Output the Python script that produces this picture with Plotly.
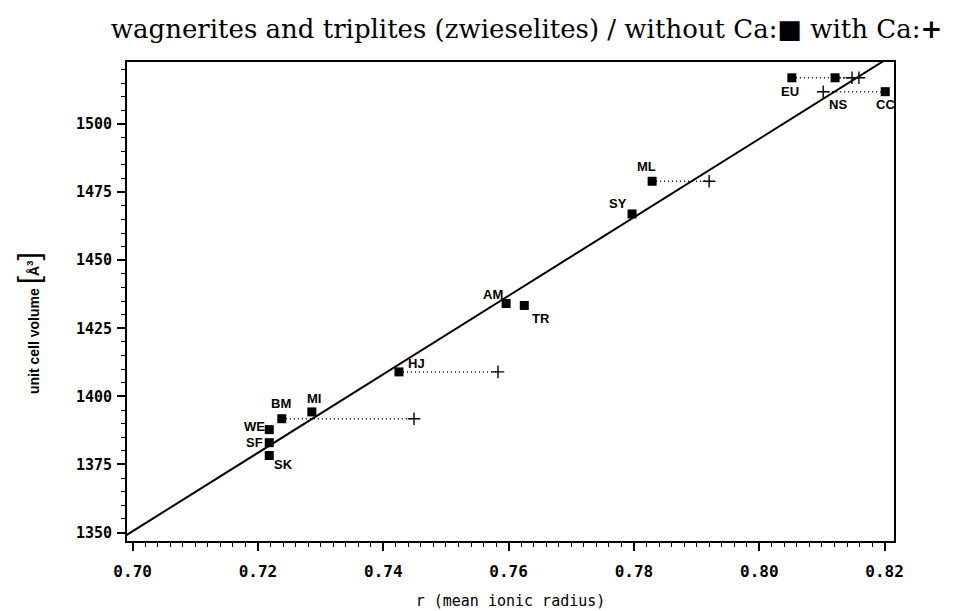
import plotly.graph_objects as go

# ---------------- data ----------------
names = ["EU", "NS", "CC", "ML", "SY", "AM", "TR", "HJ", "MI", "BM", "WE", "SF", "SK"]
r_without_ca = [0.8052, 0.8121, 0.8201, 0.7829, 0.7797, 0.7596, 0.7625, 0.7425, 0.7286, 0.7238, 0.7218, 0.7218, 0.7218]
volume = [1517.0, 1517.0, 1511.9, 1479.0, 1467.0, 1434.1, 1433.4, 1409.0, 1394.3, 1391.8, 1387.8, 1383.0, 1378.3]
r_with_ca = [0.8148, 0.8159, 0.8102, 0.7920, None, None, None, 0.7583, None, 0.7449, None, None, None]

fit_slope = 1441.0
fit_intercept_at_070 = 1350.5
fit_x = [0.69, 0.83]

x_ticks = [0.70, 0.72, 0.74, 0.76, 0.78, 0.80, 0.82]
x_tick_labels = ["0.70", "0.72", "0.74", "0.76", "0.78", "0.80", "0.82"]
y_ticks = [1350, 1375, 1400, 1425, 1450, 1475, 1500]
y_tick_labels = ["1350", "1375", "1400", "1425", "1450", "1475", "1500"]

# label offsets in pixels (style)
label_offsets = {
    "EU": (-2, 14), "NS": (3, 27), "CC": (0, 13), "ML": (-6, -15), "SY": (-14, -10),
    "AM": (-13, -9), "TR": (17, 13), "HJ": (18, -8), "MI": (2, -13), "BM": (-1, -15),
    "WE": (-15, -3), "SF": (-15, 0), "SK": (14, 9),
}

fig = go.Figure()

# regression line
fit_y = [fit_intercept_at_070 + fit_slope * (x - 0.70) for x in fit_x]
fig.add_trace(go.Scatter(x=fit_x, y=fit_y, mode="lines",
                         line=dict(color="black", width=2), showlegend=False, hoverinfo="skip"))

# dotted connectors
for rx, rc, v in zip(r_without_ca, r_with_ca, volume):
    if rc is not None:
        fig.add_trace(go.Scatter(x=[rx, rc], y=[v, v], mode="lines",
                                 line=dict(color="black", width=1.5, dash="1px,3px"),
                                 showlegend=False, hoverinfo="skip"))

# crosses (with Ca)
cx = [rc for rc in r_with_ca if rc is not None]
cy = [v for rc, v in zip(r_with_ca, volume) if rc is not None]
fig.add_trace(go.Scatter(x=cx, y=cy, mode="markers",
                         marker=dict(symbol="cross-thin", size=9, color="black",
                                     line=dict(color="black", width=1.4)),
                         showlegend=False))

# squares (without Ca)
fig.add_trace(go.Scatter(x=r_without_ca, y=volume, mode="markers",
                         marker=dict(symbol="square", size=9, color="black"),
                         showlegend=False))

for n, rx, v in zip(names, r_without_ca, volume):
    dx, dy = label_offsets[n]
    fig.add_annotation(x=rx, y=v, text=n, showarrow=False, xshift=dx, yshift=-dy,
                       font=dict(family="Liberation Sans", size=13, color="black", weight="bold"))

mono = "DejaVu Sans Mono"

fig.update_xaxes(range=[0.6991, 0.8215], tickvals=x_ticks, ticktext=x_tick_labels,
                 showline=True, linecolor="black", linewidth=2, mirror=True,
                 ticks="outside", ticklen=8, tickwidth=1.5, tickcolor="black",
                 minor=dict(dtick=0.002, ticks="outside", ticklen=4, tickwidth=1.2, tickcolor="black"),
                 showgrid=False, zeroline=False, ticklabelstandoff=7,
                 tickfont=dict(family=mono, size=16, color="black", weight="bold"),
                 title=dict(text="r (mean ionic radius)", font=dict(family=mono, size=15, color="black"), standoff=15))

fig.update_yaxes(range=[1346.9, 1522.8], tickvals=y_ticks, ticktext=y_tick_labels,
                 showline=True, linecolor="black", linewidth=2, mirror=True,
                 ticks="outside", ticklen=8, tickwidth=1.5, tickcolor="black",
                 minor=dict(dtick=5, ticks="outside", ticklen=4, tickwidth=1.2, tickcolor="black"),
                 showgrid=False, zeroline=False, ticklabelstandoff=2,
                 tickfont=dict(family=mono, size=15, color="black", weight="bold"))

fig.add_annotation(xref="paper", yref="paper", x=0, xshift=-99, y=0.455, xanchor="center", yanchor="middle",
                   textangle=-90, showarrow=False,
                   text="<b>unit cell volume </b><span style='font-size:30px'>[</span><b>Å<sup>3</sup></b><span style='font-size:30px'>]</span>",
                   font=dict(family="Liberation Sans", size=14, color="black"))

fig.update_layout(
    width=962, height=611,
    margin=dict(l=119, r=76, t=54, b=75),
    paper_bgcolor="white", plot_bgcolor="white",
    title=dict(text="wagnerites and triplites (zwieselites) / without Ca:■ with Ca:<b>+</b>",
               x=0.539, xanchor="center", xref="container", y=0.965, yanchor="middle",
               font=dict(family="DejaVu Serif", size=26, color="black")),
)

fig.write_html("out.html")
